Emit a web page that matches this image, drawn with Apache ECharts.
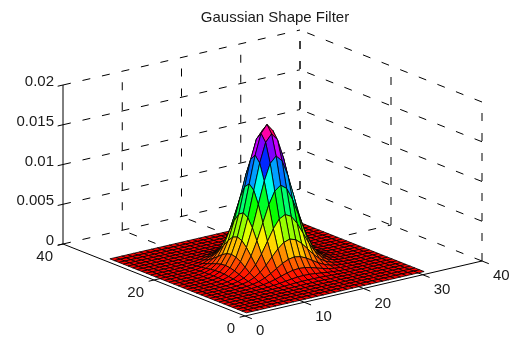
<!DOCTYPE html>
<html lang="en">
<head>
    <meta charset="UTF-8">
    <title>Gaussian Shape Filter</title>
    <style>html,body{margin:0;padding:0;background:#fff}</style>
</head>
<body>
<div class="main" style="width: 527px;height: 340px"></div>
<script src="https://cdn.jsdelivr.net/npm/echarts@6/dist/echarts.min.js"></script>
<script>
    var titleText = "Gaussian Shape Filter";

    var xTicks = [0, 10, 20, 30, 40];
    var yTicks = [0, 20, 40];
    var zTicks = [0, 0.005, 0.01, 0.015, 0.02];
    var xTickLabels = ["0", "10", "20", "30", "40"];
    var yTickLabels = ["0", "20", "40"];
    var zTickLabels = ["0", "0.005", "0.01", "0.015", "0.02"];

    var xGrid = [1,2,3,4,5,6,7,8,9,10,11,12,13,14,15,16,17,18,19,20,21,22,23,24,25,26,27,28,29,30,31];
    var yGrid = [1,2,3,4,5,6,7,8,9,10,11,12,13,14,15,16,17,18,19,20,21,22,23,24,25,26,27,28,29,30,31];

    // surface heights, in units of 0.00001, one row per yGrid value
    var zRows = [
        [0,0,0,0,0,0,0,0,0,0,0,0,0,0,0,0,0,0,0,0,0,0,0,0,0,0,0,0,0,0,0],
        [0,0,0,0,0,0,0,0,0,0,0,0,0,0,0,0,0,0,0,0,0,0,0,0,0,0,0,0,0,0,0],
        [0,0,0,0,0,0,0,0,0,0,0,0,0,0,0,0,0,0,0,0,0,0,0,0,0,0,0,0,0,0,0],
        [0,0,0,0,0,0,0,0,0,0,0,0,0,0,0,1,0,0,0,0,0,0,0,0,0,0,0,0,0,0,0],
        [0,0,0,0,0,0,0,0,0,0,0,1,1,1,2,2,2,1,1,1,0,0,0,0,0,0,0,0,0,0,0],
        [0,0,0,0,0,0,0,0,0,1,2,3,4,6,7,7,7,6,4,3,2,1,0,0,0,0,0,0,0,0,0],
        [0,0,0,0,0,0,0,1,1,3,5,8,12,16,18,19,18,16,12,8,5,3,1,1,0,0,0,0,0,0,0],
        [0,0,0,0,0,0,1,1,3,7,13,21,31,41,49,51,49,41,31,21,13,7,3,1,1,0,0,0,0,0,0],
        [0,0,0,0,0,0,1,3,8,16,29,48,71,94,111,117,111,94,71,48,29,16,8,3,1,0,0,0,0,0,0],
        [0,0,0,0,0,1,3,7,16,32,60,98,145,192,226,239,226,192,145,98,60,32,16,7,3,1,0,0,0,0,0],
        [0,0,0,0,0,2,5,13,29,60,110,181,268,353,417,441,417,353,268,181,110,60,29,13,5,2,0,0,0,0,0],
        [0,0,0,0,1,3,8,21,48,98,181,299,442,583,688,727,688,583,442,299,181,98,48,21,8,3,1,0,0,0,0],
        [0,0,0,0,1,4,12,31,71,145,268,442,652,861,1016,1074,1016,861,652,442,268,145,71,31,12,4,1,0,0,0,0],
        [0,0,0,0,1,6,16,41,94,192,353,583,861,1136,1341,1418,1341,1136,861,583,353,192,94,41,16,6,1,0,0,0,0],
        [0,0,0,0,2,7,18,49,111,226,417,688,1016,1341,1584,1674,1584,1341,1016,688,417,226,111,49,18,7,2,0,0,0,0],
        [0,0,0,1,2,7,19,51,117,239,441,727,1074,1418,1674,1770,1674,1418,1074,727,441,239,117,51,19,7,2,1,0,0,0],
        [0,0,0,0,2,7,18,49,111,226,417,688,1016,1341,1584,1674,1584,1341,1016,688,417,226,111,49,18,7,2,0,0,0,0],
        [0,0,0,0,1,6,16,41,94,192,353,583,861,1136,1341,1418,1341,1136,861,583,353,192,94,41,16,6,1,0,0,0,0],
        [0,0,0,0,1,4,12,31,71,145,268,442,652,861,1016,1074,1016,861,652,442,268,145,71,31,12,4,1,0,0,0,0],
        [0,0,0,0,1,3,8,21,48,98,181,299,442,583,688,727,688,583,442,299,181,98,48,21,8,3,1,0,0,0,0],
        [0,0,0,0,0,2,5,13,29,60,110,181,268,353,417,441,417,353,268,181,110,60,29,13,5,2,0,0,0,0,0],
        [0,0,0,0,0,1,3,7,16,32,60,98,145,192,226,239,226,192,145,98,60,32,16,7,3,1,0,0,0,0,0],
        [0,0,0,0,0,0,1,3,8,16,29,48,71,94,111,117,111,94,71,48,29,16,8,3,1,0,0,0,0,0,0],
        [0,0,0,0,0,0,1,1,3,7,13,21,31,41,49,51,49,41,31,21,13,7,3,1,1,0,0,0,0,0,0],
        [0,0,0,0,0,0,0,1,1,3,5,8,12,16,18,19,18,16,12,8,5,3,1,1,0,0,0,0,0,0,0],
        [0,0,0,0,0,0,0,0,0,1,2,3,4,6,7,7,7,6,4,3,2,1,0,0,0,0,0,0,0,0,0],
        [0,0,0,0,0,0,0,0,0,0,0,1,1,1,2,2,2,1,1,1,0,0,0,0,0,0,0,0,0,0,0],
        [0,0,0,0,0,0,0,0,0,0,0,0,0,0,0,1,0,0,0,0,0,0,0,0,0,0,0,0,0,0,0],
        [0,0,0,0,0,0,0,0,0,0,0,0,0,0,0,0,0,0,0,0,0,0,0,0,0,0,0,0,0,0,0],
        [0,0,0,0,0,0,0,0,0,0,0,0,0,0,0,0,0,0,0,0,0,0,0,0,0,0,0,0,0,0,0],
        [0,0,0,0,0,0,0,0,0,0,0,0,0,0,0,0,0,0,0,0,0,0,0,0,0,0,0,0,0,0,0]
    ];
    var zRowUnit = 0.00001;
    var zRowMax = 1770;

    var xMax = 40, yMax = 40, zMax = 0.02;

    // oblique view of the box, in the pixel units of the hidden cartesian axes
    var origin = [245, 316];
    var xEdge = [237, -55];
    var yEdge = [-182, -72];
    var zEdge = [0, -159];

    function project(x, y, z) {
        return [
            origin[0] + xEdge[0] * x / xMax + yEdge[0] * y / yMax + zEdge[0] * z / zMax,
            origin[1] + xEdge[1] * x / xMax + yEdge[1] * y / yMax + zEdge[1] * z / zMax
        ];
    }

    // matlab hsv colormap with 64 levels
    function hsvColor(value) {
        var level = Math.min(63, Math.floor(value / zRowMax * 64));
        var h = level / 64 * 6;
        var k = Math.floor(h);
        var f = h - k;
        var rgb = [[1, f, 0], [1 - f, 1, 0], [0, 1, f], [0, 1 - f, 1], [f, 0, 1], [1, 0, 1 - f]][k];
        return "rgb(" + rgb.map(function(c) { return Math.round(c * 255); }).join(",") + ")";
    }

    var dashedLines = [];
    xTicks.forEach(function(x) {
        // x = 0 on the y = 40 wall is the solid z axis
        if (x > 0) dashedLines.push([x, yMax, 0, x, yMax, zMax]);
        if (x > 0 && x < xMax) dashedLines.push([x, 0, 0, x, yMax, 0]);
    });
    yTicks.forEach(function(y) {
        dashedLines.push([xMax, y, 0, xMax, y, zMax]);
        if (y > 0 && y < yMax) dashedLines.push([0, y, 0, xMax, y, 0]);
    });
    zTicks.forEach(function(z) {
        dashedLines.push([0, yMax, z, xMax, yMax, z]);
        dashedLines.push([xMax, 0, z, xMax, yMax, z]);
    });

    var solidLines = [
        [0, 0, 0, xMax, 0, 0],
        [0, 0, 0, 0, yMax, 0],
        [0, yMax, 0, 0, yMax, zMax]
    ];
    xTicks.forEach(function(x) { solidLines.push([x, 0, 0, x, -1.5, 0]); });
    yTicks.forEach(function(y) { solidLines.push([0, y, 0, -0.9, y, 0]); });
    zTicks.forEach(function(z) { solidLines.push([0, yMax, z, -0.9, yMax, z]); });

    var labels = [];
    xTicks.forEach(function(x, n) {
        labels.push({ text: xTickLabels[n], at: project(x, 0, 0), dx: 11, dy: 15, align: "left" });
    });
    yTicks.forEach(function(y, n) {
        labels.push({ text: yTickLabels[n], at: project(0, y, 0), dx: -10, dy: 13, align: "right" });
    });
    zTicks.forEach(function(z, n) {
        labels.push({ text: zTickLabels[n], at: project(0, yMax, z), dx: -9, dy: -3, align: "right" });
    });

    // far corner first so that nearer faces paint over it
    var faces = [];
    for (var j = yGrid.length - 2; j >= 0; j--) {
        for (var i = xGrid.length - 2; i >= 0; i--) {
            faces.push([i, j]);
        }
    }

    function surfacePoint(api, i, j) {
        return api.coord(project(xGrid[i], yGrid[j], zRows[j][i] * zRowUnit));
    }

    function renderFace(params, api) {
        var i = api.value(0), j = api.value(1);
        return {
            type: "polygon",
            silent: true,
            shape: {
                points: [
                    surfacePoint(api, i, j),
                    surfacePoint(api, i + 1, j),
                    surfacePoint(api, i + 1, j + 1),
                    surfacePoint(api, i, j + 1)
                ]
            },
            style: { fill: hsvColor(zRows[j][i]), stroke: "#000", lineWidth: 0.8 }
        };
    }

    function lineRenderer(style) {
        return function(params, api) {
            var a = api.coord(project(api.value(0), api.value(1), api.value(2)));
            var b = api.coord(project(api.value(3), api.value(4), api.value(5)));
            return {
                type: "line",
                silent: true,
                shape: { x1: a[0], y1: a[1], x2: b[0], y2: b[1] },
                style: style
            };
        };
    }

    function renderLabel(params, api) {
        var l = labels[params.dataIndex];
        var p = api.coord(l.at);
        return {
            type: "text",
            silent: true,
            x: p[0] + l.dx,
            y: p[1] + l.dy,
            style: {
                text: l.text,
                fill: "#1a1a1a",
                font: "15px 'Liberation Sans', Arial, sans-serif",
                align: l.align,
                verticalAlign: "middle"
            }
        };
    }

    var main = document.querySelector(".main");
    var mainEcharts = echarts.init(main);

    var option = {
        animation: false,
        backgroundColor: "#fff",
        title: {
            text: titleText,
            left: 270,
            top: 5,
            textAlign: "center",
            textStyle: { color: "#1a1a1a", fontWeight: "normal", fontSize: 15, fontFamily: "Liberation Sans" }
        },
        grid: { left: 0, right: 0, top: 0, bottom: 0 },
        xAxis: { type: "value", min: 0, max: 527, show: false },
        yAxis: { type: "value", min: 0, max: 340, inverse: true, show: false },
        series: [
            {
                type: "custom", progressive: 0, clip: false,
                renderItem: lineRenderer({ stroke: "#000", lineWidth: 1, lineDash: [8, 12] }),
                data: dashedLines
            },
            {
                type: "custom", progressive: 0, clip: false,
                renderItem: lineRenderer({ stroke: "#000", lineWidth: 1 }),
                data: solidLines
            },
            {
                type: "custom", progressive: 0, clip: false,
                renderItem: renderFace,
                data: faces
            },
            {
                type: "custom", progressive: 0, clip: false,
                renderItem: renderLabel,
                data: labels.map(function(l, n) { return [n]; })
            }
        ]
    };
    mainEcharts.setOption(option);
</script>
</body>
</html>
